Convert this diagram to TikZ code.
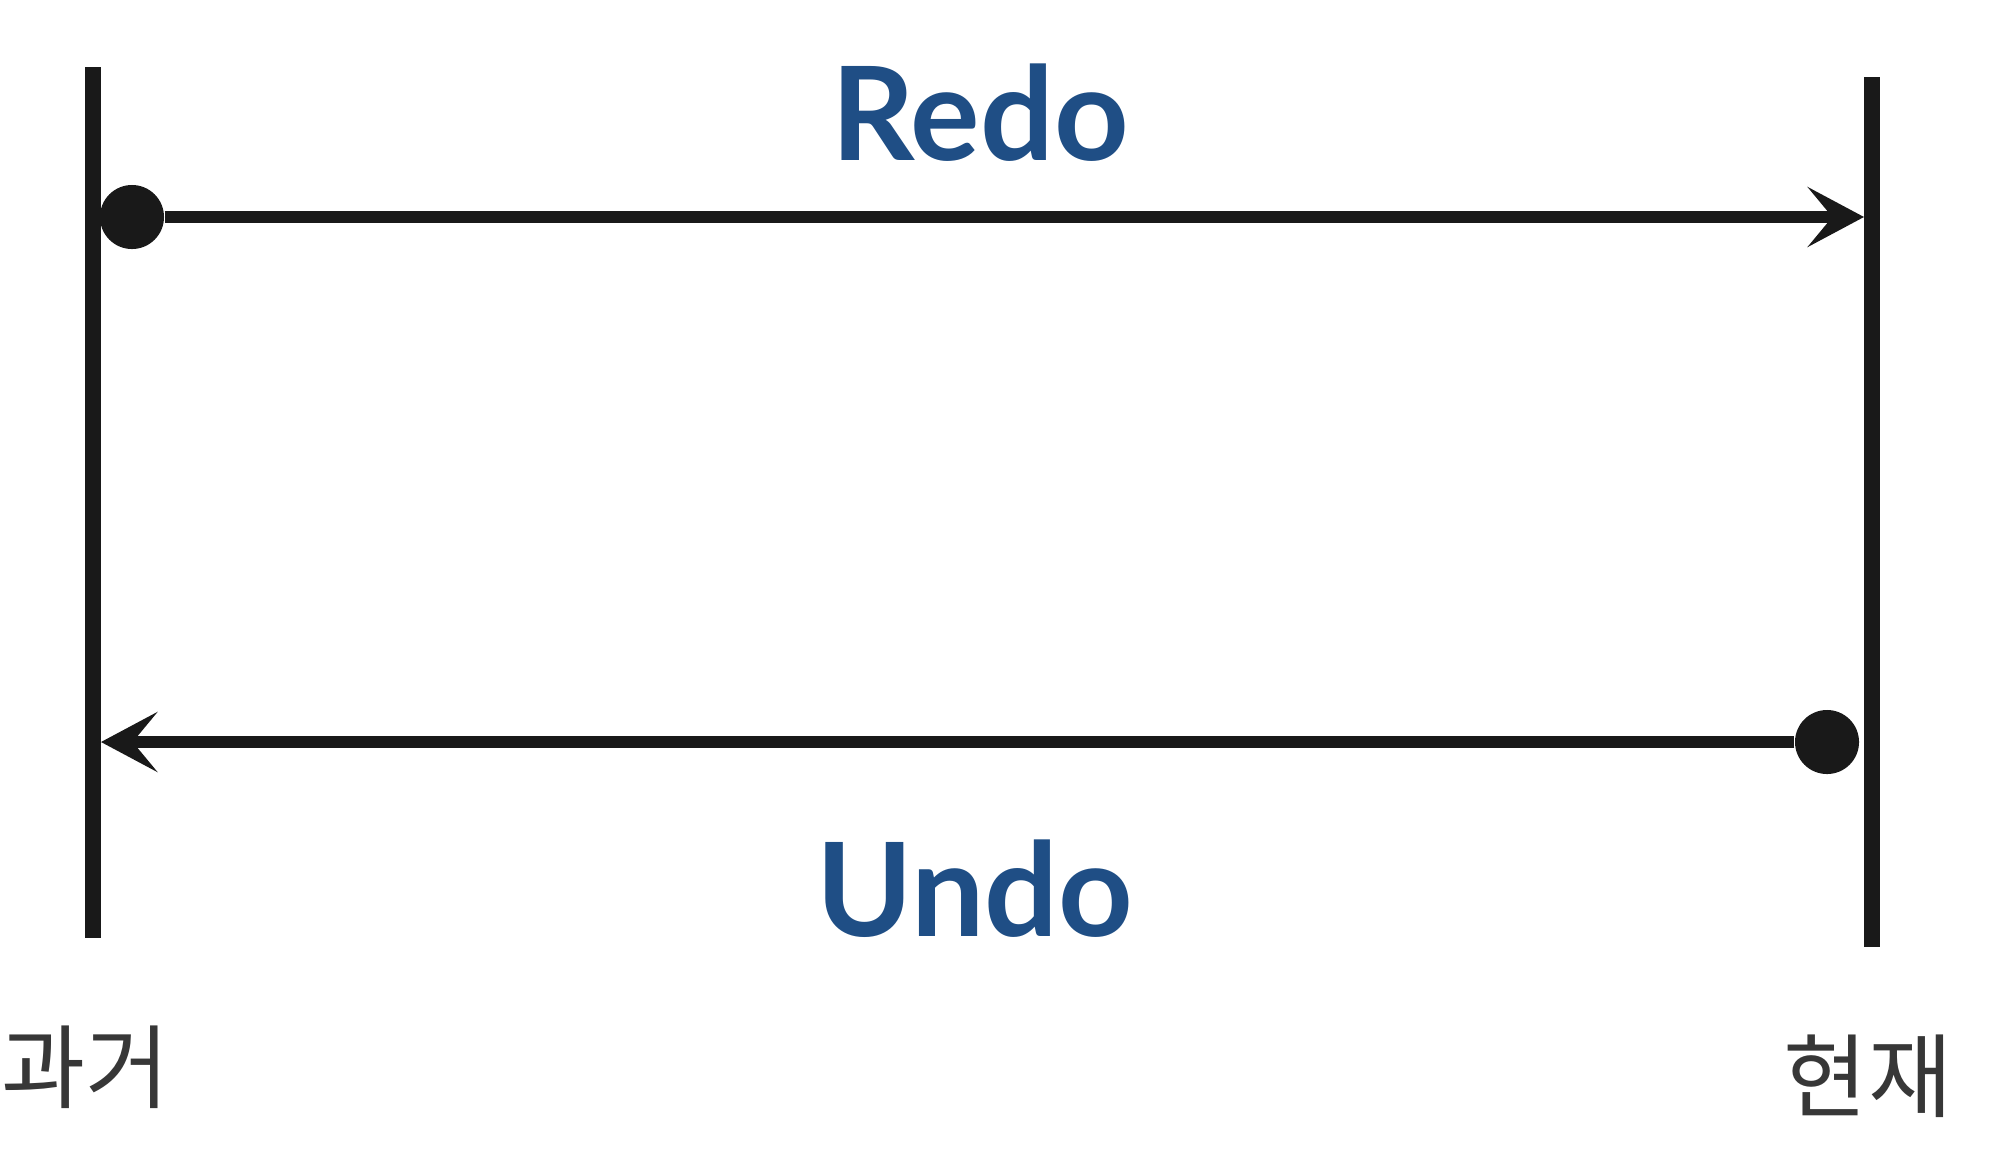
\documentclass[tikz,border=0pt]{standalone}
\usepackage{fontspec}
\usepackage{tikz}
\usetikzlibrary{positioning, arrows.meta}
\newfontfamily\labelfont{Lato}
\newfontfamily\kofont{Noto Sans CJK KR}
\definecolor{redoblue}{RGB}{31,78,133}
\definecolor{kogray}{RGB}{55,55,55}
\tikzset{timeline/.style={draw, line width=4.3pt}}
\tikzset{dotmark/.style={circle, fill=black!90, inner sep=0pt, minimum size=0.64cm}}
\tikzset{arr/.style={draw, black!90, line width=3.3pt, -{Stealth[length=16pt, width=17pt, inset=7pt]}}}
\tikzset{oplabel/.style={text=redoblue, font=\labelfont\bfseries\fontsize{37}{42}\selectfont}}
\tikzset{timelabel/.style={text=kogray, font=\kofont\fontsize{26}{30}\selectfont}}

\begin{document}
\begin{tikzpicture}[x=0.01cm, y=-0.01cm]
            \useasboundingbox (0,0) rectangle (2000,1169);
            % the two time lines
            \coordinate (pastTop) at (93,67);
            \coordinate (pastBot) at (93,938);
            \coordinate (nowTop) at (1872,77);
            \coordinate (nowBot) at (1872,947);
            \draw[timeline, black!90] (pastTop) -- (pastBot);
            \draw[timeline, black!90] (nowTop) -- (nowBot);
            % redo: past -> now
            \node[dotmark] (redoStart) at (132,217) {};
            \coordinate (redoEnd) at (1864,217);
            \draw[arr] (redoStart) -- (redoEnd);
            % undo: now -> past
            \node[dotmark] (undoStart) at (1827,742) {};
            \coordinate (undoEnd) at (101,742);
            \draw[arr] (undoStart) -- (undoEnd);
            \node[oplabel] (redo) at (980,113) {Redo};
            \node[oplabel] (undo) at (975,889) {Undo};
            \node[timelabel] (past) at (86,1067) {과거};
            \node[timelabel] (now) at (1868,1076) {현재};
        \end{tikzpicture}
\end{document}
